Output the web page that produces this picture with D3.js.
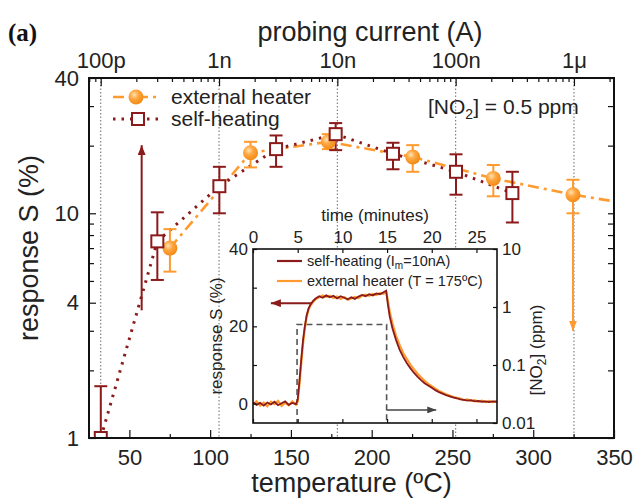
<!DOCTYPE html>
<html>
<head>
<meta charset="utf-8">
<script src="https://cdn.jsdelivr.net/npm/d3@7"></script>
<style>
  body { margin: 0; background: #fff; }
  svg { display: block; }
</style>
</head>
<body>
<svg id="chart" width="638" height="499"></svg>
<script>
// ---- data ----
// self-heating (squares), response S (%) vs temperature (ºC)
const selfTemp = [32.3, 67.3, 105.7, 140.8, 177.7, 213.2, 252.2, 287.1];
const selfResp = [1.0, 7.5, 13.2, 19.3, 22.5, 18.4, 15.3, 12.3];
const selfLo   = [0.6, 5.05, 10.0, 16.1, 19.1, 15.7, 12.1, 9.1];
const selfHi   = [1.7, 10.1, 16.1, 22.2, 25.2, 20.6, 18.3, 15.3];

// external heater (circles)
const extTemp = [75.1, 125.0, 173.2, 225.4, 275.3, 324.6];
const extResp = [7.0, 18.6, 20.8, 17.8, 14.3, 12.1];
const extLo   = [5.5, 16.0, 19.3, 15.3, 11.9, 10.0];
const extHi   = [8.5, 20.8, 22.5, 20.1, 16.4, 14.1];
// dash-dot trend of the external heater, runs on to the right edge
const extTrendTemp = [75.1, 125.0, 173.2, 225.4, 275.3, 324.6, 350];
const extTrendResp = [7.0, 18.6, 20.8, 17.8, 14.3, 12.1, 11.3];

// vertical arrows in the main panel
const arrowTemp  = [57.6, 324.6];
const arrowFrom  = [3.7, 10.0];
const arrowTo    = [20.1, 3.0];
const arrowColor = ['#8b1a1a', '#ff9a2e'];

// axes
const tempTicks = [50, 100, 150, 200, 250, 300, 350];
const tempMinor = [75, 125, 175, 225, 275, 325];
const respTicks = [1, 4, 10, 40];
const currentTicks  = [1e-10, 1e-9, 1e-8, 1e-7, 1e-6];
const currentLabels = ['100p', '1n', '10n', '100n', '1\u03bc'];

// inset: transient at 175ºC / 10nA
const scanTime = [0, 0.4, 0.8, 1.2, 1.6, 2.0, 2.4, 2.8, 3.2, 3.6, 4.0, 4.4, 4.8, 5.0,
  5.2, 5.4, 5.6, 5.8, 6.0, 6.2, 6.4, 6.7, 7.0, 7.4, 7.8, 8.2, 8.6, 9.0, 9.4, 9.8,
  10.2, 10.6, 11.0, 11.4, 11.8, 12.2, 12.6, 13.0, 13.4, 13.8, 14.2, 14.6, 14.9,
  15.1, 15.3, 15.6, 16.0, 16.4, 16.8, 17.2, 17.6, 18.0, 18.4, 18.8, 19.2, 19.6,
  20.0, 20.4, 20.8, 21.2, 21.6, 22.0, 22.4, 22.8, 23.2, 23.6, 24.0, 24.4, 24.8,
  25.2, 25.6, 26.0, 26.4, 26.8, 27.3];
const scanSelf = [0.4, -0.3, 0.2, -0.5, 0.3, -0.2, 0.5, -0.4, 0.1, 0.6, -0.3, 0.2, -0.1, 1.0,
  6.0, 11.5, 16.5, 20.0, 22.8, 24.5, 25.5, 26.5, 27.2, 27.8, 27.4, 28.0, 27.5, 27.9, 27.2, 27.8,
  27.4, 27.0, 27.5, 27.1, 27.7, 28.1, 27.8, 28.3, 28.0, 28.5, 28.3, 28.8, 29.2,
  25.5, 22.5, 19.5, 16.5, 14.0, 12.1, 10.5, 9.2, 8.0, 7.0, 6.1, 5.3, 4.7,
  4.1, 3.5, 3.0, 2.6, 2.2, 1.9, 1.6, 1.4, 1.1, 1.0, 0.8, 0.9, 0.6,
  0.7, 0.5, 0.6, 0.4, 0.6, 0.5];
const scanExt = [-0.2, 0.6, -0.5, 0.3, -0.7, 0.5, -0.1, 0.7, -0.6, 0.2, -0.4, 0.6, -0.3, 0.5,
  5.0, 10.5, 15.5, 19.5, 22.5, 24.2, 25.3, 26.2, 27.0, 27.5, 28.0, 27.6, 27.9, 27.3, 27.7, 27.1,
  27.6, 26.9, 27.2, 27.6, 27.3, 27.9, 28.2, 27.9, 28.4, 28.1, 28.6, 28.4, 28.9,
  26.5, 23.8, 20.8, 17.6, 15.2, 13.1, 11.6, 10.1, 8.9, 7.8, 6.8, 5.9, 5.1,
  4.5, 3.9, 3.3, 2.9, 2.4, 2.1, 1.7, 1.5, 1.3, 0.9, 1.1, 0.7, 0.9,
  0.5, 0.8, 0.4, 0.7, 0.4, 0.6];
// NO2 pulse (dashed, right inset axis)
const no2Time = [0, 4.93, 4.93, 14.95, 14.95, 27.3];
const no2Conc = [0.001, 0.001, 0.5, 0.5, 0.001, 0.001];
const insetTimeTicks = [0, 5, 10, 15, 20, 25];
const insetRespTicks = [0, 10, 20, 30, 40];
const no2Ticks  = [0.01, 0.1, 1, 10];
const no2Labels = ['0.01', '0.1', '1', '10'];

// ---- layout ----
const FONT = '"Liberation Sans", Arial, sans-serif';
const INK = '#222';
const RED = '#8b1a1a';
const ORANGE = '#ff9a2e';
const plot  = { left: 89, right: 614, top: 78, bottom: 438 };
const inset = { left: 253, right: 497, top: 249, bottom: 423 };

const svg = d3.select('#chart');

const x = d3.scaleLinear().domain([25, 350]).range([plot.left, plot.right]);
const xTop = d3.scaleLog().domain([7.96e-11, 2.18e-6]).range([plot.left, plot.right]);
const y = d3.scaleLog().domain([1, 40]).range([plot.bottom, plot.top]);

const ix = d3.scaleLinear().domain([0, 27.3]).range([inset.left, inset.right]);
const iy = d3.scaleLinear().domain([-5, 40]).range([inset.bottom, inset.top]);
const iNo2 = d3.scaleLog().domain([0.01, 10]).range([inset.bottom, inset.top]);

const defs = svg.append('defs');
defs.append('clipPath').attr('id', 'clipMain').append('rect')
  .attr('x', plot.left).attr('y', plot.top)
  .attr('width', plot.right - plot.left).attr('height', plot.bottom - plot.top);
defs.append('clipPath').attr('id', 'clipInset').append('rect')
  .attr('x', inset.left).attr('y', inset.top)
  .attr('width', inset.right - inset.left).attr('height', inset.bottom - inset.top);

const ball = defs.append('radialGradient').attr('id', 'ball')
  .attr('cx', '38%').attr('cy', '35%').attr('r', '65%');
ball.append('stop').attr('offset', '0%').attr('stop-color', '#ffe2b0');
ball.append('stop').attr('offset', '45%').attr('stop-color', '#ffa640');
ball.append('stop').attr('offset', '100%').attr('stop-color', '#f28b16');

function arrowMarker(id, color, w, h) {
  defs.append('marker').attr('id', id)
    .attr('markerUnits', 'userSpaceOnUse')
    .attr('markerWidth', w).attr('markerHeight', h)
    .attr('refX', w).attr('refY', h / 2).attr('orient', 'auto')
    .append('path').attr('d', `M0,0 L${w},${h / 2} L0,${h} Z`).attr('fill', color);
}
arrowMarker('arrRed', RED, 10, 8);
arrowMarker('arrOrange', ORANGE, 10, 8);
arrowMarker('arrGray', '#444', 9, 7);

function styleAxis(g, size) {
  g.attr('font-family', FONT).attr('font-size', size);
  g.select('.domain').remove();
  g.selectAll('line').attr('stroke', '#111').attr('stroke-width', 1.2);
  g.selectAll('text').attr('fill', INK);
}
const isDecade = d => Math.abs(Math.log10(d) - Math.round(Math.log10(d))) < 1e-6;

// ---- main panel ----
// dotted current grid
svg.append('g').selectAll('line').data(currentTicks).join('line')
  .attr('x1', d => xTop(d)).attr('x2', d => xTop(d))
  .attr('y1', plot.top).attr('y2', plot.bottom)
  .attr('stroke', '#777').attr('stroke-width', 1.1).attr('stroke-dasharray', '1.5,2');

// bottom: temperature
svg.append('g').attr('transform', `translate(0,${plot.bottom})`)
  .call(d3.axisBottom(x).tickValues(tempTicks).tickSize(-8).tickPadding(11).tickFormat(d3.format('d')))
  .call(styleAxis, 22);
svg.append('g').attr('transform', `translate(0,${plot.bottom})`)
  .call(d3.axisBottom(x).tickValues(tempMinor).tickSize(-4).tickFormat(''))
  .call(styleAxis, 22);

// top: probing current
svg.append('g').attr('transform', `translate(0,${plot.top})`)
  .call(d3.axisTop(xTop).tickValues(currentTicks).tickSize(-8).tickPadding(10)
    .tickFormat((d, i) => currentLabels[i]))
  .call(styleAxis, 22);
svg.append('g').attr('transform', `translate(0,${plot.top})`)
  .call(d3.axisTop(xTop).tickValues(xTop.ticks().filter(d => !isDecade(d))).tickSize(-4).tickFormat(''))
  .call(styleAxis, 22);

// left / right: response
const yMinor = y.ticks().filter(d => respTicks.indexOf(d) < 0);
svg.append('g').attr('transform', `translate(${plot.left},0)`)
  .call(d3.axisLeft(y).tickValues(respTicks).tickSize(-7).tickPadding(10).tickFormat(d3.format('d')))
  .call(styleAxis, 22);
svg.append('g').attr('transform', `translate(${plot.left},0)`)
  .call(d3.axisLeft(y).tickValues(yMinor).tickSize(-5).tickFormat(''))
  .call(styleAxis, 22);
svg.append('g').attr('transform', `translate(${plot.right},0)`)
  .call(d3.axisRight(y).tickValues(respTicks.concat(yMinor)).tickSize(-6).tickFormat(''))
  .call(styleAxis, 22);

// axis titles
svg.append('text').attr('x', (plot.left + plot.right) / 2).attr('y', 492)
  .attr('text-anchor', 'middle').attr('font-family', FONT).attr('font-size', 27).attr('fill', INK)
  .text('temperature (\u00baC)');
svg.append('text').attr('x', 370).attr('y', 41)
  .attr('text-anchor', 'middle').attr('font-family', FONT).attr('font-size', 27).attr('fill', INK)
  .text('probing current (A)');
svg.append('text').attr('transform', `translate(38,${(plot.top + plot.bottom) / 2 - 10}) rotate(-90)`)
  .attr('text-anchor', 'middle').attr('font-family', FONT).attr('font-size', 27).attr('fill', INK)
  .text('response S (%)');
svg.append('text').attr('x', 8).attr('y', 41)
  .attr('font-family', '"Liberation Serif", "DejaVu Serif", serif').attr('font-weight', 'bold')
  .attr('font-size', 25).attr('fill', '#111').text('(a)');

// ---- inset ----
const ins = svg.append('g');
ins.append('rect').attr('x', inset.left).attr('y', inset.top)
  .attr('width', inset.right - inset.left).attr('height', inset.bottom - inset.top)
  .attr('fill', '#fff');

const insClip = ins.append('g').attr('clip-path', 'url(#clipInset)');
insClip.append('path')
  .datum(no2Time.map((t, i) => [t, no2Conc[i]]))
  .attr('d', d3.line().x(d => ix(d[0])).y(d => iNo2(d[1])))
  .attr('fill', 'none').attr('stroke', '#555').attr('stroke-width', 1.6).attr('stroke-dasharray', '6,4');

const scanLine = d3.line().x(d => ix(d[0])).y(d => iy(d[1]));
insClip.append('path')
  .datum(scanTime.map((t, i) => [t, scanExt[i]]))
  .attr('d', scanLine).attr('fill', 'none').attr('stroke', ORANGE).attr('stroke-width', 2.2);
insClip.append('path')
  .datum(scanTime.map((t, i) => [t, scanSelf[i]]))
  .attr('d', scanLine).attr('fill', 'none').attr('stroke', RED).attr('stroke-width', 1.8);

// arrows telling which axis belongs to which curve
ins.append('line')
  .attr('x1', ix(6.6)).attr('x2', ix(2.0)).attr('y1', iy(26)).attr('y2', iy(26))
  .attr('stroke', RED).attr('stroke-width', 2).attr('marker-end', 'url(#arrRed)');
ins.append('line')
  .attr('x1', ix(14.95)).attr('x2', ix(20.5)).attr('y1', iNo2(0.0168)).attr('y2', iNo2(0.0168))
  .attr('stroke', '#444').attr('stroke-width', 1.6).attr('marker-end', 'url(#arrGray)');

// inset axes
ins.append('g').attr('transform', `translate(0,${inset.top})`)
  .call(d3.axisTop(ix).tickValues(insetTimeTicks).tickSize(-4).tickPadding(6))
  .call(styleAxis, 17);
ins.append('g').attr('transform', `translate(0,${inset.bottom})`)
  .call(d3.axisBottom(ix).tickValues(insetTimeTicks).tickSize(-4).tickFormat(''))
  .call(styleAxis, 17);
ins.append('g').attr('transform', `translate(${inset.left},0)`)
  .call(d3.axisLeft(iy).tickValues(insetRespTicks).tickSize(-4).tickPadding(5)
    .tickFormat(d => d % 20 === 0 ? d : ''))
  .call(styleAxis, 17);
ins.append('g').attr('transform', `translate(${inset.right},0)`)
  .call(d3.axisRight(iNo2).tickValues(no2Ticks).tickSize(-4).tickPadding(5)
    .tickFormat((d, i) => no2Labels[i]))
  .call(styleAxis, 17);
ins.append('rect').attr('x', inset.left).attr('y', inset.top)
  .attr('width', inset.right - inset.left).attr('height', inset.bottom - inset.top)
  .attr('fill', 'none').attr('stroke', '#111').attr('stroke-width', 1.6);

ins.append('text').attr('x', (inset.left + inset.right) / 2).attr('y', 221)
  .attr('text-anchor', 'middle').attr('font-family', FONT).attr('font-size', 17).attr('fill', INK)
  .text('time (minutes)');
ins.append('text').attr('transform', `translate(222,${(inset.top + inset.bottom) / 2}) rotate(-90)`)
  .attr('text-anchor', 'middle').attr('font-family', FONT).attr('font-size', 17).attr('fill', INK)
  .text('response S (%)');
const no2Title = ins.append('text')
  .attr('transform', `translate(542,${(inset.top + inset.bottom) / 2 + 14}) rotate(-90)`)
  .attr('text-anchor', 'middle').attr('font-family', FONT).attr('font-size', 17).attr('fill', INK);
no2Title.append('tspan').text('[NO');
no2Title.append('tspan').attr('font-size', 12).attr('dy', 4).text('2');
no2Title.append('tspan').attr('dy', -4).text('] (ppm)');

// inset legend
const insetLegend = [
  { color: RED, pre: 'self-heating (I', sub: 'm', post: '=10nA)' },
  { color: ORANGE, pre: 'external heater (T = 175\u00baC)', sub: '', post: '' }
];
insetLegend.forEach((d, i) => {
  const ly = 261 + i * 20;
  ins.append('line').attr('x1', 277).attr('x2', 302).attr('y1', ly).attr('y2', ly)
    .attr('stroke', d.color).attr('stroke-width', 2.2);
  const t = ins.append('text').attr('x', 307).attr('y', ly + 5)
    .attr('font-family', FONT).attr('font-size', 14.5).attr('fill', INK);
  t.append('tspan').text(d.pre);
  if (d.sub) {
    t.append('tspan').attr('font-size', 10).attr('dy', 3).text(d.sub);
    t.append('tspan').attr('dy', -3).text(d.post);
  }
});

// ---- main data ----
const data = svg.append('g').attr('clip-path', 'url(#clipMain)');

data.append('path')
  .datum(extTrendTemp.map((t, i) => [t, extTrendResp[i]]))
  .attr('d', d3.line().x(d => x(d[0])).y(d => y(d[1])))
  .attr('fill', 'none').attr('stroke', ORANGE).attr('stroke-width', 2.6)
  .attr('stroke-dasharray', '11,5,3,5');
data.append('path')
  .datum(selfTemp.map((t, i) => [t, selfResp[i]]))
  .attr('d', d3.line().x(d => x(d[0])).y(d => y(d[1])))
  .attr('fill', 'none').attr('stroke', RED).attr('stroke-width', 3)
  .attr('stroke-dasharray', '2.5,6');

// vertical arrows
arrowTemp.forEach((t, i) => {
  data.append('line')
    .attr('x1', x(t)).attr('x2', x(t)).attr('y1', y(arrowFrom[i])).attr('y2', y(arrowTo[i]))
    .attr('stroke', arrowColor[i]).attr('stroke-width', 2)
    .attr('marker-end', i === 0 ? 'url(#arrRed)' : 'url(#arrOrange)');
});

function errorBars(g, temps, lo, hi, color) {
  const cap = 6.5;
  temps.forEach((t, i) => {
    const cx = x(t);
    g.append('line').attr('x1', cx).attr('x2', cx).attr('y1', y(lo[i])).attr('y2', y(hi[i]))
      .attr('stroke', color).attr('stroke-width', 2);
    [lo[i], hi[i]].forEach(v => {
      g.append('line').attr('x1', cx - cap).attr('x2', cx + cap).attr('y1', y(v)).attr('y2', y(v))
        .attr('stroke', color).attr('stroke-width', 2);
    });
  });
}
errorBars(data, extTemp, extLo, extHi, ORANGE);
errorBars(data, selfTemp, selfLo, selfHi, RED);

data.selectAll('circle.ext').data(extTemp).join('circle').attr('class', 'ext')
  .attr('cx', d => x(d)).attr('cy', (d, i) => y(extResp[i])).attr('r', 7.5)
  .attr('fill', 'url(#ball)');
data.selectAll('rect.self').data(selfTemp).join('rect').attr('class', 'self')
  .attr('x', d => x(d) - 6).attr('y', (d, i) => y(selfResp[i]) - 6)
  .attr('width', 12).attr('height', 12)
  .attr('fill', '#fff').attr('stroke', RED).attr('stroke-width', 2);

// frame
svg.append('rect').attr('x', plot.left).attr('y', plot.top)
  .attr('width', plot.right - plot.left).attr('height', plot.bottom - plot.top)
  .attr('fill', 'none').attr('stroke', '#111').attr('stroke-width', 2);

// legend
const leg = svg.append('g');
leg.append('line').attr('x1', 113).attr('x2', 158).attr('y1', 97).attr('y2', 97)
  .attr('stroke', ORANGE).attr('stroke-width', 2.6).attr('stroke-dasharray', '11,5,3,5');
leg.append('circle').attr('cx', 136).attr('cy', 97).attr('r', 7.5).attr('fill', 'url(#ball)');
leg.append('line').attr('x1', 113).attr('x2', 162).attr('y1', 119).attr('y2', 119)
  .attr('stroke', RED).attr('stroke-width', 3).attr('stroke-dasharray', '2.5,6');
leg.append('rect').attr('x', 132).attr('y', 113).attr('width', 12).attr('height', 12)
  .attr('fill', '#fff').attr('stroke', RED).attr('stroke-width', 2);
[['external heater', 104], ['self-heating', 126]].forEach(([label, ly]) => {
  leg.append('text').attr('x', 171).attr('y', ly)
    .attr('font-family', FONT).attr('font-size', 21).attr('fill', INK).text(label);
});

// concentration note
const note = svg.append('text').attr('x', 428).attr('y', 114)
  .attr('font-family', FONT).attr('font-size', 21).attr('fill', INK);
note.append('tspan').text('[NO');
note.append('tspan').attr('font-size', 14).attr('dy', 5).text('2');
note.append('tspan').attr('dy', -5).text('] = 0.5 ppm');
</script>
</body>
</html>
